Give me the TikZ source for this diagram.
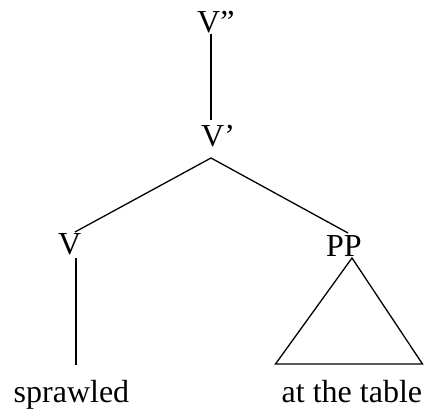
\documentclass[tikz,border=0pt]{standalone}
\usepackage{fontspec}
\setmainfont{Liberation Serif}
\usetikzlibrary{calc}
\begin{document}
\begin{tikzpicture}[x=1pt,y=1pt,
  lbl/.style={inner sep=0pt,anchor=base west,font=\fontsize{32}{38}\selectfont},
  edge/.style={line width=1.3pt,line join=miter}]
\useasboundingbox (0,0) rectangle (424,410);
\node[lbl] (vpp) at (197,377) {V”};
\node[lbl] (vp) at (201,263) {V’};
\node[lbl] (v) at (58,155) {V};
\node[lbl] (pp) at (326,153) {PP};
\node[lbl] (spr) at (13.5,7) {sprawled};
\node[lbl] (tab) at (281.5,7) {at the table};
\draw[edge] ($(vpp.base west)+(14,-1)$) -- ($(vp.base west)+(10,27)$);
\draw[edge] ($(v.base west)+(17,23)$) -- ($(vp.base west)+(10,-11)$) -- ($(pp.base west)+(22,24)$);
\draw[edge] ($(v.base west)+(18,-3)$) -- ($(spr.base west)+(62.5,38)$);
\draw[edge] ($(pp.base west)+(26,-1)$) -- ($(tab.base west)+(-6,39)$) -- ($(tab.base west)+(141,39)$) -- cycle;
\end{tikzpicture}
\end{document}
